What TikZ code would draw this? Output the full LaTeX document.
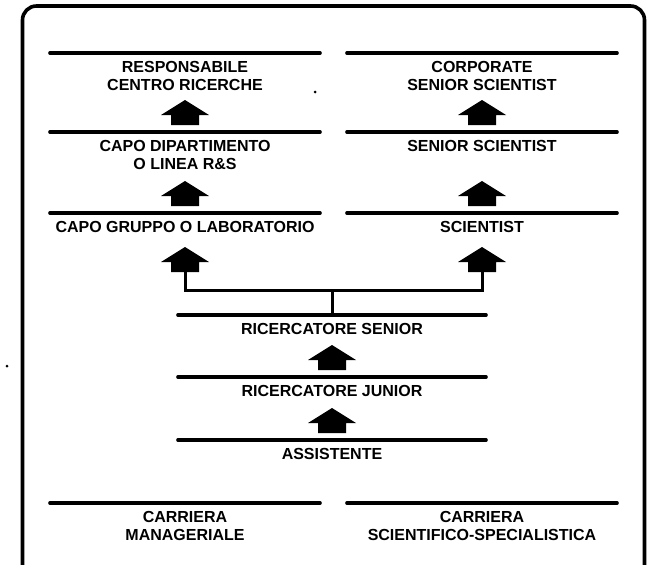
\documentclass[tikz,border=0pt]{standalone}
\usepackage{fontspec}
\setmainfont{Liberation Sans}
\usepackage{tikz}
\usetikzlibrary{positioning,calc}

\begin{document}
\begin{tikzpicture}[
    x=1pt, y=-1pt,
    every node/.style={font=\bfseries\fontsize{16}{18}\selectfont},
    grade/.style={anchor=north, align=center, inner xsep=0pt, inner ysep=8pt,
                  minimum width=270pt},
    midgrade/.style={grade, minimum width=308pt},
    rule/.style={line width=3.2pt, line cap=round},
    link/.style={line width=3pt, line join=miter},
    frame/.style={line width=3.6pt, rounded corners=14pt},
    promo/.pic={\fill (-14pt,0pt) -- (-14pt,10pt) -- (-24pt,10pt) -- (0pt,25pt)
                  -- (24pt,10pt) -- (14pt,10pt) -- (14pt,0pt) -- cycle;},
]
\useasboundingbox (0,0) rectangle (657,565);

% --- Outer frame, open at the bottom ---
\draw[frame] (22.5,565) -- (22.5,6) -- (644.5,6) -- (644.5,565);

% --- Managerial career (left column) ---
\node[grade] (resp)    at (185,53)  {RESPONSABILE\\CENTRO RICERCHE};
\node[grade] (capodip) at (185,132) {CAPO DIPARTIMENTO\\O LINEA R\&S};
\node[grade] (capogr)  at (185,213) {CAPO GRUPPO O LABORATORIO};

% --- Scientific career (right column) ---
\node[grade] (corpsci) at (482,53)  {CORPORATE\\SENIOR SCIENTIST};
\node[grade] (sensci)  at (482,132) {SENIOR SCIENTIST};
\node[grade] (sci)     at (482,213) {SCIENTIST};

% --- Common trunk ---
\node[midgrade] (rsenior) at (332,315) {RICERCATORE SENIOR};
\node[midgrade] (rjunior) at (332,377) {RICERCATORE JUNIOR};
\node[midgrade] (assist)  at (332,440) {ASSISTENTE};

% --- Career captions ---
\node[grade] (carman) at (185,503) {CARRIERA\\MANAGERIALE};
\node[grade] (carsci) at (482,503) {CARRIERA\\SCIENTIFICO-SPECIALISTICA};

% --- Rules on top of every grade ---
\foreach \n in {resp,capodip,capogr,corpsci,sensci,sci,rsenior,rjunior,assist,carman,carsci}
  \draw[rule] (\n.north west) -- (\n.north east);

% --- Promotion arrows ---
\pic at ([yshift=7pt]capodip.north) {promo};
\pic at ([yshift=7pt]capogr.north)  {promo};
\pic at ([yshift=7pt]sensci.north)  {promo};
\pic at ([yshift=7pt]sci.north)     {promo};
\pic at ([yshift=7pt]rjunior.north) {promo};
\pic at ([yshift=7pt]assist.north)  {promo};

% --- Fork from the senior researcher to both careers ---
\coordinate (mgo)  at (185,272);
\coordinate (sgo)  at (482,272);
\coordinate (fork) at (332,290);
\pic at (mgo) {promo};
\pic at (sgo) {promo};
\draw[link] (mgo) -- (mgo |- fork) -- (sgo |- fork) -- (sgo);
\draw[link] (fork) -- (rsenior.north);

% --- Specks ---
\fill (7,366) circle (1.5pt);
\fill (315,92) circle (1.5pt);

\end{tikzpicture}
\end{document}
